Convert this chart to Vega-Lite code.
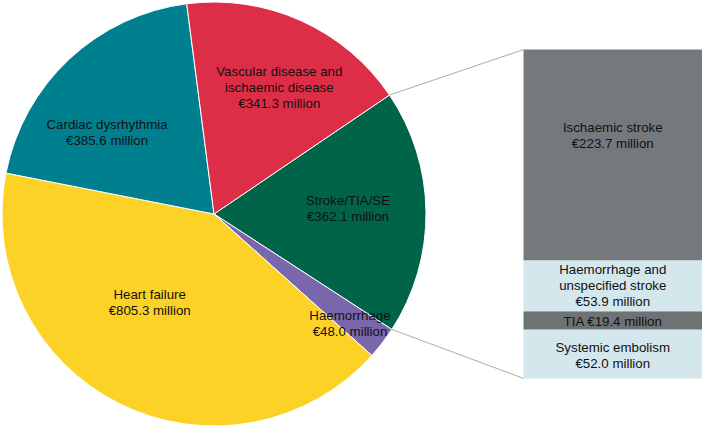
{
  "$schema": "https://vega.github.io/schema/vega-lite/v6.json",
  "width": 702,
  "height": 428,
  "padding": 0,
  "autosize": {"type": "fit", "contains": "padding"},
  "background": "white",
  "config": {"view": {"stroke": null}, "text": {"font": "Liberation Sans"}},
  "params": [
    {"name": "a0", "value": 0.975},
    {"name": "a1", "expr": "a0 + 2*PI*362.1/1942.3"},
    {"name": "bx", "expr": "width*0.745"}
  ],
  "datasets": {
    "pie": [
      {"category": "Stroke/TIA/SE", "cost": 362.1, "order": 1, "label": ["Stroke/TIA/SE", "€362.1 million"]},
      {"category": "Haemorrhage", "cost": 48.0, "order": 2, "label": ["Haemorrhage", "€48.0 million"]},
      {"category": "Heart failure", "cost": 805.3, "order": 3, "label": ["Heart failure", "€805.3 million"]},
      {"category": "Cardiac dysrhythmia", "cost": 385.6, "order": 4, "label": ["Cardiac dysrhythmia", "€385.6 million"]},
      {"category": "Vascular disease and ischaemic disease", "cost": 341.3, "order": 5, "label": ["Vascular disease and", "ischaemic disease", "€341.3 million"]}
    ],
    "stroke": [
      {"category": "Systemic embolism", "cost": 52.0, "order": 1, "label": ["Systemic embolism", "€52.0 million"]},
      {"category": "TIA", "cost": 19.4, "order": 2, "label": ["TIA €19.4 million"]},
      {"category": "Haemorrhage and unspecified stroke", "cost": 53.9, "order": 3, "label": ["Haemorrhage and", "unspecified stroke", "€53.9 million"]},
      {"category": "Ischaemic stroke", "cost": 223.7, "order": 4, "label": ["Ischaemic stroke", "€223.7 million"]}
    ],
    "connectors": [{"edge": "top"}, {"edge": "bottom"}]
  },
  "layer": [
    {
      "data": {"name": "pie"},
      "mark": {"type": "arc", "x": {"expr": "height/2"}, "y": {"expr": "height/2"}, "outerRadius": {"expr": "height/2"}, "stroke": "white", "strokeWidth": 1},
      "encoding": {
        "theta": {"field": "cost", "type": "quantitative", "stack": true, "scale": {"range": [0.975, 7.2582], "nice": false, "zero": true}},
        "order": {"field": "order", "type": "quantitative"},
        "color": {
          "field": "category",
          "type": "nominal",
          "legend": null,
          "scale": {
            "domain": ["Stroke/TIA/SE", "Haemorrhage", "Heart failure", "Cardiac dysrhythmia", "Vascular disease and ischaemic disease", "Systemic embolism", "TIA", "Haemorrhage and unspecified stroke", "Ischaemic stroke"],
            "range": ["#006548", "#7A67AB", "#FDD226", "#00808F", "#DC2F47", "#D3E7EC", "#6E7274", "#D3E7EC", "#75797B"]
          }
        }
      }
    },
    {
      "data": {"name": "pie"},
      "mark": {
        "type": "text",
        "x": {"expr": "height/2"},
        "y": {"expr": "height/2"},
        "radius": {"expr": "datum.order===1?134:datum.order===2?175:datum.order===3?106:datum.order===4?133:142"},
        "dx": {"expr": "datum.order===1?0:datum.order===2?-3:datum.order===3?-17:datum.order===4?-16:7"},
        "dy": {"expr": "datum.order===1?-12:datum.order===2?-4:datum.order===3?-14:datum.order===4?8:-13"},
        "fontSize": 13.3,
        "lineHeight": 16,
        "align": "center",
        "baseline": "middle",
        "color": "#111111"
      },
      "encoding": {
        "theta": {"field": "cost", "type": "quantitative", "stack": true},
        "order": {"field": "order", "type": "quantitative"},
        "text": {"field": "label"}
      }
    },
    {
      "data": {"name": "stroke"},
      "transform": [
        {"stack": "cost", "groupby": [], "sort": [{"field": "order", "order": "ascending"}], "as": ["y0", "y1"]}
      ],
      "mark": {"type": "rect", "x": {"expr": "bx"}, "x2": {"expr": "width"}},
      "encoding": {
        "y": {"field": "y0", "type": "quantitative", "scale": {"domain": [-50.5, 399.5], "nice": false, "zero": false}, "axis": null},
        "y2": {"field": "y1"},
        "color": {"field": "category", "type": "nominal", "legend": null}
      }
    },
    {
      "data": {"name": "stroke"},
      "transform": [
        {"stack": "cost", "groupby": [], "sort": [{"field": "order", "order": "ascending"}], "as": ["y0", "y1"]},
        {"calculate": "(datum.y0+datum.y1)/2", "as": "ymid"}
      ],
      "mark": {
        "type": "text",
        "x": {"expr": "(bx+width)/2"},
        "dy": {"expr": "datum.order===4?-27:datum.order===3?-16:datum.order===2?2:-6"},
        "fontSize": 13.3,
        "lineHeight": 16,
        "align": "center",
        "baseline": "middle",
        "color": "#111111"
      },
      "encoding": {
        "y": {"field": "ymid", "type": "quantitative", "scale": {"domain": [-50.5, 399.5], "nice": false, "zero": false}, "axis": null},
        "text": {"field": "label"}
      }
    },
    {
      "data": {"name": "connectors"},
      "mark": {"type": "rule", "color": "#ABABAB", "strokeWidth": 1},
      "encoding": {
        "x": {"value": {"expr": "height/2 + height/2*sin(datum.edge==='top'?a0:a1)"}},
        "y": {"value": {"expr": "height/2 - height/2*cos(datum.edge==='top'?a0:a1)"}},
        "x2": {"value": {"expr": "bx"}},
        "y2": {"value": {"expr": "scale('y', datum.edge==='top'?349:0)"}}
      }
    }
  ]
}
